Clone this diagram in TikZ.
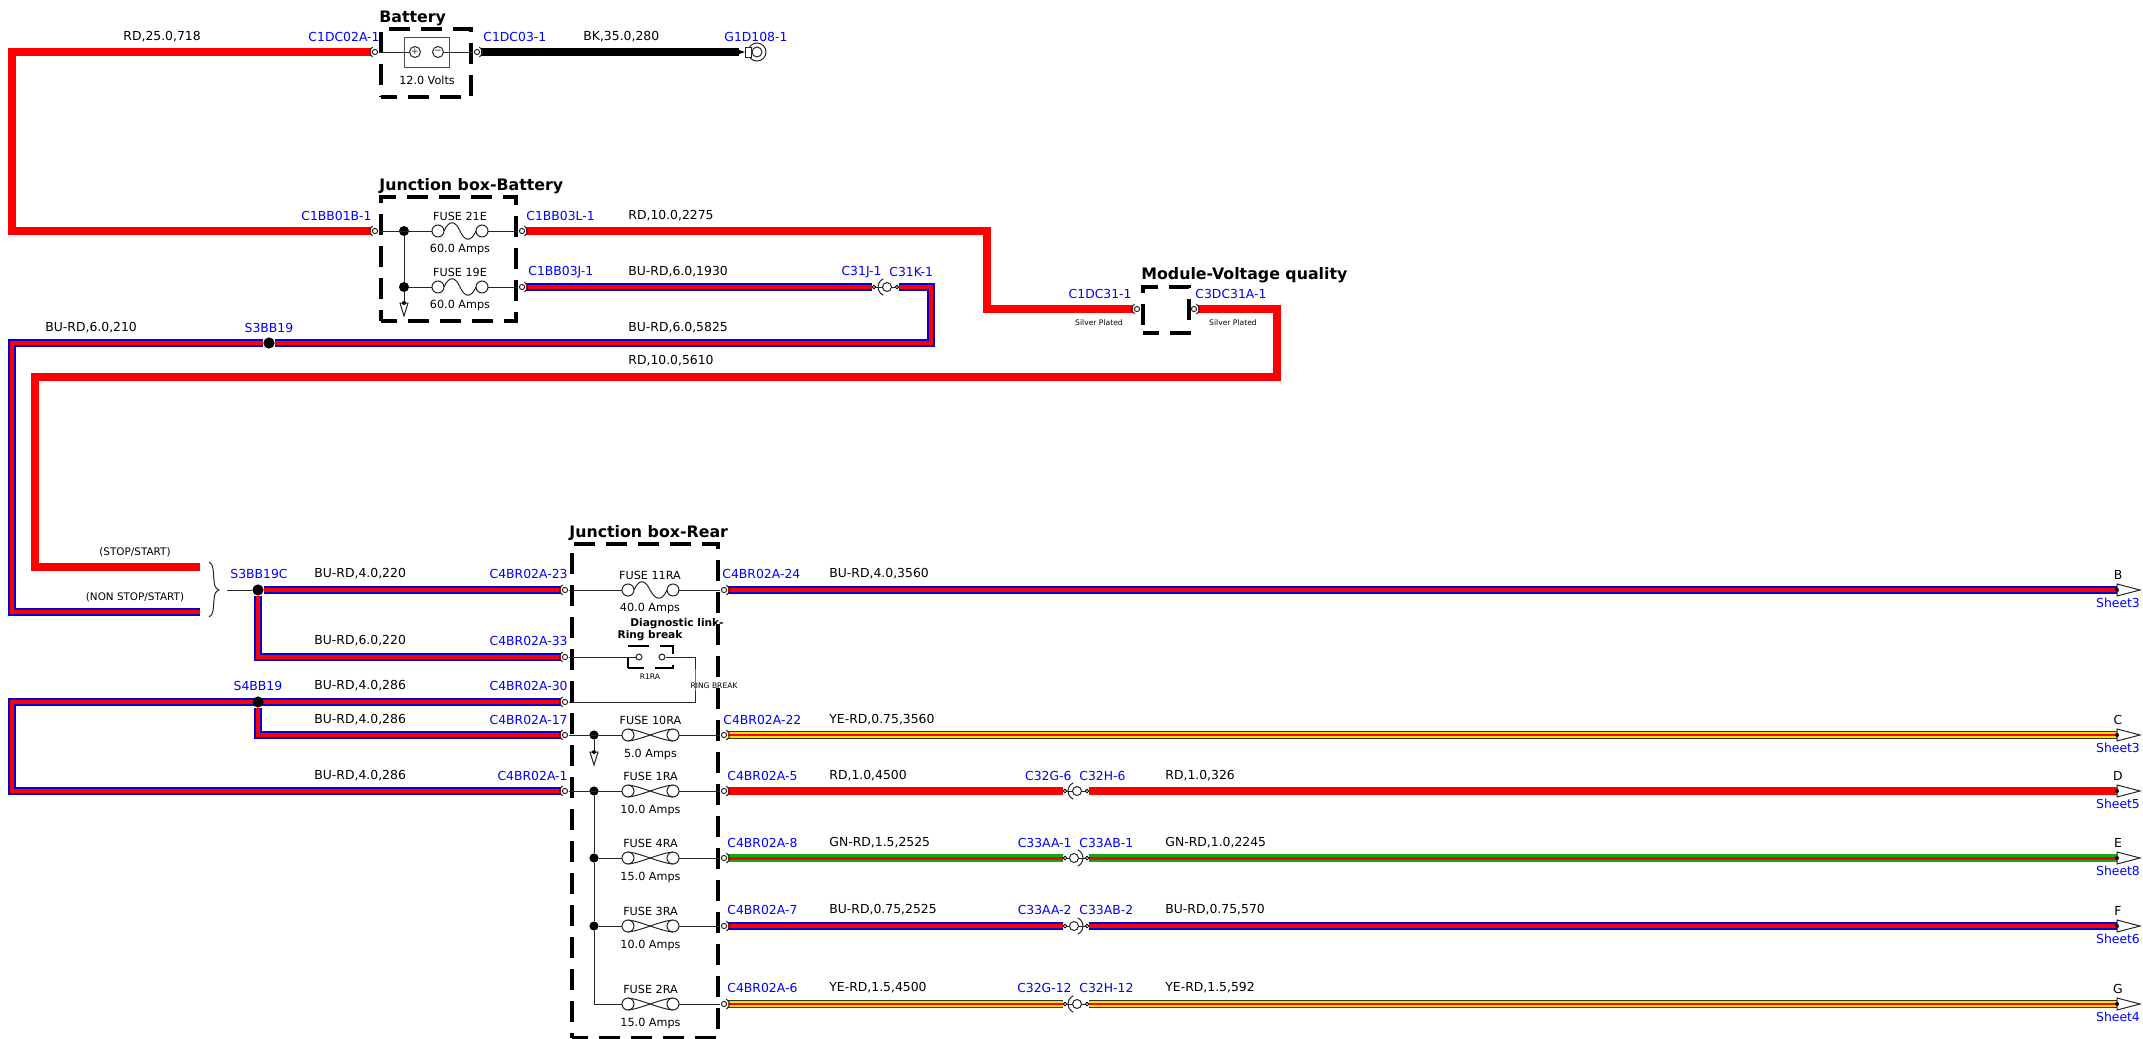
\documentclass[tikz,border=0pt]{standalone}
\usepackage{fontspec}
\setmainfont{DejaVu Sans}
\usepackage{xcolor}
\usepackage{tikz}
\usetikzlibrary{positioning,backgrounds}

\definecolor{wireblue}{RGB}{0,0,215}
\definecolor{wiregreen}{RGB}{20,170,20}
\definecolor{wireyellow}{RGB}{250,225,0}

\begin{document}
\begin{tikzpicture}[
    x=0.5pt, y=-0.5pt,
    txt/.style={inner sep=0pt, font=\fontsize{6.2}{7}\selectfont},
    wlbl/.style={txt, anchor=west},
    clbl/.style={txt, text=blue},
    cleft/.style={clbl, anchor=east},
    cright/.style={clbl, anchor=west},
    fusetxt/.style={inner sep=0pt, font=\fontsize{5.6}{7}\selectfont},
    tiny/.style={inner sep=0pt, font=\fontsize{3.8}{5}\selectfont},
    boxtitle/.style={inner sep=0pt, anchor=west, font=\fontsize{7.9}{9}\bfseries\selectfont},
    smalltitle/.style={inner sep=0pt, font=\fontsize{5.3}{7}\bfseries\selectfont},
    jbox/.style={rectangle, draw, inner sep=0pt, line width=1.6pt, dash pattern=on 10.5pt off 5.5pt, dash phase=2.5pt},
    sym/.style={line width=0.5pt, black!85},
    term/.style={circle, inner sep=0pt, minimum size=4pt},
    pinend/.style={circle, draw, fill=white, line width=0.4pt, inner sep=0pt, minimum size=1.8pt},
    jdot/.style={circle, fill=black, inner sep=0pt, minimum size=5.6pt},
    fuse/.style={inner sep=0pt, minimum width=28pt, minimum height=7pt},
    rdwire/.style={draw=red, line width=3.7pt},
    bkwire/.style={draw=black, line width=3.7pt},
    burd/.style={preaction={draw=wireblue, line width=3.7pt}, draw=red, line width=1.6pt},
    gnrd/.style={preaction={draw=wiregreen, line width=3.7pt}, draw=red, line width=1.5pt},
    yerd/.style={preaction={draw=black!80, line width=3.7pt},
        preaction={draw=wireyellow, line width=2.9pt}, draw=red, line width=1.2pt},
]
    \useasboundingbox (0,0) rectangle (2143,1039);

    % dashed boxes
    \node[jbox, minimum width=45pt, minimum height=34pt] (battbox) at (426,63) {};
    \node[jbox, minimum width=67.5pt, minimum height=62pt] (jbbatt) at (448.5,259) {};
    \node[jbox, minimum width=23pt, minimum height=23pt] (modbox) at (1166,310) {};
    \node[jbox, minimum width=73pt, minimum height=247pt] (jbrear) at (645,791) {};
    \node[boxtitle] (tbatt) at (379,18) {Battery};
    \node[boxtitle] (tjbbatt) at (379,186) {Junction box-Battery};
    \node[boxtitle] (tmod) at (1141,275) {Module-Voltage quality};
    \node[boxtitle] (tjbrear) at (569,533) {Junction box-Rear};

    % terminals
    \node[term] (c1dc02a) at (375,52) {};
    \node[term] (c1dc03) at (477,52) {};
    \node[term] (c1bb01b) at (375,231) {};
    \node[term] (c1bb03l) at (522,231) {};
    \node[term] (c1bb03j) at (522,287) {};
    \node[term] (c1dc31) at (1137,309) {};
    \node[term] (c3dc31a) at (1194,309) {};
    \node[term] (c4br23) at (565,590) {};
    \node[term] (c4br33) at (565,657) {};
    \node[term] (c4br30) at (565,702) {};
    \node[term] (c4br17) at (565,735) {};
    \node[term] (c4br1) at (565,791) {};
    \node[term] (c4br24) at (724,590) {};
    \node[term] (c4br22) at (724,735) {};
    \node[term] (c4br5) at (724,791) {};
    \node[term] (c4br8) at (724,858) {};
    \node[term] (c4br7) at (724,926) {};
    \node[term] (c4br6) at (724,1004) {};
    \foreach \t in {c1dc02a,c1bb01b,c1dc31,c4br23,c4br33,c4br30,c4br17,c4br1}
        \draw[sym] (\t) circle[radius=2.6] (\t) ++(115:5.5) arc (115:245:5.5);
    \foreach \t in {c1dc03,c1bb03l,c1bb03j,c3dc31a,c4br24,c4br22,c4br5,c4br8,c4br7,c4br6}
        \draw[sym] (\t) circle[radius=2.6] (\t) ++(-65:5.5) arc (-65:65:5.5);

    % inline connectors
    \node[pinend] (c31j) at (874,287) {};
    \node[pinend] (c31k) at (897,287) {};
    \node[pinend] (c32g6) at (1065,791) {};
    \node[pinend] (c32h6) at (1087,791) {};
    \node[pinend] (c33aa1) at (1065,858) {};
    \node[pinend] (c33ab1) at (1087,858) {};
    \node[pinend] (c33aa2) at (1065,926) {};
    \node[pinend] (c33ab2) at (1087,926) {};
    \node[pinend] (c32g12) at (1065,1004) {};
    \node[pinend] (c32h12) at (1087,1004) {};
    \foreach \a/\b in {c31j/c31k,c32g6/c32h6,c32g12/c32h12,c33aa1/c33ab1,c33aa2/c33ab2}
        \draw[sym] (\a) -- (\b);
    \foreach \cx/\y in {887/287,1077/791,1077/1004} {
        \draw[sym, fill=white] (\cx,\y) circle[radius=4.5];
        \draw[sym] (\cx,\y) ++(115:9) arc (115:245:9);
    }
    \foreach \cx/\y in {1074/858,1074/926} {
        \draw[sym, fill=white] (\cx,\y) circle[radius=4.5];
        \draw[sym] (\cx,\y) ++(-65:9) arc (-65:65:9);
    }

    % battery
    \node[draw=black!70, line width=0.5pt, inner sep=0pt, minimum width=22.5pt, minimum height=15pt] (batt) at (427,52) {};
    \node[circle, draw, sym, inner sep=0pt, minimum size=5.5pt, font=\fontsize{4.5}{5}\selectfont] (bplus) at (415,52) {+};
    \node[circle, draw, sym, inner sep=0pt, minimum size=5.5pt, font=\fontsize{4.5}{5}\selectfont] (bminus) at (438,52) {−};
    \node[fusetxt] (bvolts) at (427,80) {12.0 Volts};
    \draw[sym] (c1dc02a) -- (bplus);
    \draw[sym] (bminus) -- (c1dc03);

    % fuses with the wavy link
    \foreach \id/\cx/\y/\lx/\rx/\name/\amps in {e21/460/231/438/482/FUSE 21E/60.0,e19/460/287/438/482/FUSE 19E/60.0,ra11/650/590/628/673/FUSE 11RA/40.0} {
        \node[fuse] (fuse\id) at (\cx,\y) {};
        \node[fusetxt] (name\id) at (\cx,\y-15) {\name};
        \node[fusetxt] (amps\id) at (\cx,\y+19) {\amps\ Amps};
        \draw[sym] (\lx,\y) circle[radius=6] (\rx,\y) circle[radius=6];
        \draw[sym] (\lx+6,\y) .. controls (\lx+11,\y-11) and (\lx+17,\y-11) .. (\cx,\y)
            .. controls (\rx-17,\y+11) and (\rx-11,\y+11) .. (\rx-6,\y);
    }
    % fuses with the crossed link
    \foreach \id/\y/\name/\amps in {ra10/735/FUSE 10RA/5.0,ra1/791/FUSE 1RA/10.0,ra4/858/FUSE 4RA/15.0,ra3/926/FUSE 3RA/10.0,ra2/1004/FUSE 2RA/15.0} {
        \node[fuse] (fuse\id) at (650.5,\y) {};
        \node[fusetxt] (name\id) at (650.5,\y-15) {\name};
        \node[fusetxt] (amps\id) at (650.5,\y+19) {\amps\ Amps};
        \draw[sym] (628,\y) circle[radius=6] (673,\y) circle[radius=6];
        \draw[sym] (628,\y-6) .. controls (640,\y-5) and (660,\y+5) .. (673,\y+6);
        \draw[sym] (628,\y+6) .. controls (640,\y+5) and (660,\y-5) .. (673,\y-6);
    }

    % junctions
    \node[jdot, minimum size=5pt] (j21) at (404,231) {};
    \node[jdot, minimum size=5pt] (j19) at (404,287) {};
    \node[jdot, minimum size=4.6pt] (j10) at (594,735) {};
    \node[jdot, minimum size=4.6pt] (j1) at (594,791) {};
    \node[jdot, minimum size=4.6pt] (j4) at (594,858) {};
    \node[jdot, minimum size=4.6pt] (j3) at (594,926) {};
    \node[jdot] (s3bb19) at (269,343) {};
    \node[jdot] (s3bb19c) at (258,590) {};
    \node[jdot] (s4bb19) at (258,702) {};

    % internal links
    \draw[sym] (c1bb01b) -- (fusee21);
    \draw[sym] (fusee21) -- (c1bb03l);
    \draw[sym] (j21) -- (j19);
    \draw[sym] (j19) -- (fusee19);
    \draw[sym] (fusee19) -- (c1bb03j);
    \draw[sym] (c4br23) -- (fusera11);
    \draw[sym] (fusera11) -- (c4br24);
    \draw[sym] (c4br17) -- (fusera10);
    \draw[sym] (fusera10) -- (c4br22);
    \draw[sym] (c4br1) -- (fusera1);
    \draw[sym] (fusera1) -- (c4br5);
    \draw[sym] (j4) -- (fusera4);
    \draw[sym] (fusera4) -- (c4br8);
    \draw[sym] (j3) -- (fusera3);
    \draw[sym] (fusera3) -- (c4br7);
    \draw[sym] (j1) -- (j4);
    \draw[sym] (j4) -- (j3);
    \draw[sym] (j3) |- (fusera2);
    \draw[sym] (fusera2) -- (c4br6);

    % ground arrows
    \coordinate (gnda) at (404,303);
    \coordinate (gndb) at (594,752);
    \draw[sym] (j19) -- (gnda);
    \draw[sym] (j10) -- (gndb);
    \foreach \g in {gnda,gndb} {
        \draw[sym] (\g) ++(-4,0) -- ++(8,0) -- ++(-4,13) -- cycle;
        \fill (\g) circle[radius=2];
    }

    % ring break
    \node[jbox, line width=1.4pt, minimum width=22.5pt, minimum height=11pt] (rbbox) at (650.5,657) {};
    \node[circle, draw, sym, inner sep=0pt, minimum size=3pt] (rba) at (639,657) {};
    \node[circle, draw, sym, inner sep=0pt, minimum size=3pt] (rbb) at (662,657) {};
    \coordinate (rbturn) at (695,680);
    \draw[sym] (c4br33) -- (rba);
    \draw[sym] (rbb) -| (rbturn) |- (c4br30);
    \node[smalltitle] (tdiag) at (677,624) {Diagnostic link-};
    \node[smalltitle] (tring) at (650,636) {Ring break};
    \node[tiny] (r1ra) at (650,677) {R1RA};
    \node[tiny] (ringbrk) at (714,686) {RING BREAK};

    % brace
    \coordinate (bracetip) at (227,590);
    \draw[sym] (209,562) .. controls (214,564) and (213,572) .. (214,580)
        .. controls (214,586) and (216,589) .. (219,590)
        .. controls (216,591) and (214,594) .. (214,600)
        .. controls (213,608) and (214,615) .. (209,617);
    \draw[sym] (bracetip) -- (s3bb19c);
    \coordinate (stopend) at (200,567);
    \coordinate (nonstopend) at (200,612);
    \node[txt, font=\fontsize{5.2}{7}\selectfont] (tstop) at (135,552) {(STOP/START)};
    \node[txt, font=\fontsize{5.2}{7}\selectfont] (tnonstop) at (135,597) {(NON STOP/START)};

    % ground terminal
    \node[circle, draw, sym, inner sep=0pt, minimum size=9pt] (g1d108) at (757,52) {};
    \node[circle, draw, sym, inner sep=0pt, minimum size=5pt] (g1d108i) at (757,52) {};
    \coordinate (gndwire) at (739,52);
    \draw[sym, fill=white] (745,47) rectangle (751,57);
    \fill (739,50) -- (745,52) -- (739,54) -- cycle;

    % off sheet arrows
    \foreach \id/\y/\l/\s in {b/590/B/3,c/735/C/3,d/791/D/5,e/858/E/8,f/926/F/6,g/1004/G/4} {
        \coordinate (off\id) at (2117,\y);
        \draw[sym] (2117,\y-6) -- (2140,\y) -- (2117,\y+6) -- cycle;
        \fill (off\id) circle[radius=2];
        \node[txt] (letter\id) at (2118,\y-15) {\l};
        \node[clbl] (sheet\id) at (2118,\y+13) {Sheet\s};
    }

    % wires
    \begin{scope}[on background layer]
        \coordinate (leftA) at (12,140);
        \coordinate (upA) at (987,270);
        \coordinate (rightA) at (1277,340);
        \coordinate (leftB) at (35,377);
        \coordinate (leftC) at (12,480);
        \coordinate (rightC) at (931,320);
        \coordinate (leftD) at (12,750);
        \draw[rdwire] (c1dc02a) -| (leftA) |- (c1bb01b);
        \draw[bkwire] (c1dc03) -- (gndwire);
        \draw[rdwire] (c1bb03l) -| (upA) |- (c1dc31);
        \draw[rdwire] (c3dc31a) -| (rightA) |- (leftB) |- (stopend);
        \draw[burd] (c1bb03j) -- (c31j);
        \draw[burd] (c31k) -| (rightC) |- (s3bb19);
        \draw[burd] (s3bb19) -| (leftC) |- (nonstopend);
        \draw[burd] (s3bb19c) -- (c4br23);
        \draw[burd] (s3bb19c) |- (c4br33);
        \draw[burd] (c4br30) -| (leftD) |- (c4br1);
        \draw[burd] (s4bb19) |- (c4br17);
        \draw[burd] (c4br24) -- (offb);
        \draw[yerd] (c4br22) -- (offc);
        \draw[rdwire] (c4br5) -- (c32g6);
        \draw[rdwire] (c32h6) -- (offd);
        \draw[gnrd] (c4br8) -- (c33aa1);
        \draw[gnrd] (c33ab1) -- (offe);
        \draw[burd] (c4br7) -- (c33aa2);
        \draw[burd] (c33ab2) -- (offf);
        \draw[yerd] (c4br6) -- (c32g12);
        \draw[yerd] (c32h12) -- (offg);
    \end{scope}

    % connector names
    \node[cleft] (nc1dc02a) at (380,37) {C1DC02A-1};
    \node[cright] (nc1dc03) at (483,37) {C1DC03-1};
    \node[cright] (ng1d108) at (724,37) {G1D108-1};
    \node[cleft] (nc1bb01b) at (372,216) {C1BB01B-1};
    \node[cright] (nc1bb03l) at (526,216) {C1BB03L-1};
    \node[cright] (nc1bb03j) at (528,272) {C1BB03J-1};
    \node[cleft] (nc31j) at (882,272) {C31J-1};
    \node[cright] (nc31k) at (889,272) {C31K-1};
    \node[cleft] (nc1dc31) at (1132,294) {C1DC31-1};
    \node[cright] (nc3dc31a) at (1195,294) {C3DC31A-1};
    \node[clbl] (ns3bb19) at (269,328) {S3BB19};
    \node[clbl] (ns3bb19c) at (259,574) {S3BB19C};
    \node[clbl] (ns4bb19) at (258,686) {S4BB19};
    \node[cleft] (nc4br23) at (568,574) {C4BR02A-23};
    \node[cleft] (nc4br33) at (568,641) {C4BR02A-33};
    \node[cleft] (nc4br30) at (568,686) {C4BR02A-30};
    \node[cleft] (nc4br17) at (568,720) {C4BR02A-17};
    \node[cleft] (nc4br1) at (568,776) {C4BR02A-1};
    \node[cright] (nc4br24) at (722,574) {C4BR02A-24};
    \node[cright] (nc4br22) at (723,720) {C4BR02A-22};
    \node[cright] (nc4br5) at (727,776) {C4BR02A-5};
    \node[cright] (nc4br8) at (727,843) {C4BR02A-8};
    \node[cright] (nc4br7) at (727,910) {C4BR02A-7};
    \node[cright] (nc4br6) at (727,988) {C4BR02A-6};
    \node[cleft] (nc32g6) at (1072,776) {C32G-6};
    \node[cright] (nc32h6) at (1079,776) {C32H-6};
    \node[cleft] (nc33aa1) at (1072,843) {C33AA-1};
    \node[cright] (nc33ab1) at (1079,843) {C33AB-1};
    \node[cleft] (nc33aa2) at (1072,910) {C33AA-2};
    \node[cright] (nc33ab2) at (1079,910) {C33AB-2};
    \node[cleft] (nc32g12) at (1072,988) {C32G-12};
    \node[cright] (nc32h12) at (1079,988) {C32H-12};

    % wire labels
    \node[wlbl] (w1) at (123,37) {RD,25.0,718};
    \node[wlbl] (w2) at (583,37) {BK,35.0,280};
    \node[wlbl] (w3) at (628,216) {RD,10.0,2275};
    \node[wlbl] (w4) at (628,272) {BU-RD,6.0,1930};
    \node[wlbl] (w5) at (628,328) {BU-RD,6.0,5825};
    \node[wlbl] (w6) at (45,328) {BU-RD,6.0,210};
    \node[wlbl] (w7) at (628,361) {RD,10.0,5610};
    \node[wlbl] (w8) at (314,574) {BU-RD,4.0,220};
    \node[wlbl] (w9) at (314,641) {BU-RD,6.0,220};
    \node[wlbl] (w10) at (314,686) {BU-RD,4.0,286};
    \node[wlbl] (w11) at (314,720) {BU-RD,4.0,286};
    \node[wlbl] (w12) at (314,776) {BU-RD,4.0,286};
    \node[wlbl] (w13) at (829,574) {BU-RD,4.0,3560};
    \node[wlbl] (w14) at (829,720) {YE-RD,0.75,3560};
    \node[wlbl] (w15) at (829,776) {RD,1.0,4500};
    \node[wlbl] (w16) at (829,843) {GN-RD,1.5,2525};
    \node[wlbl] (w17) at (829,910) {BU-RD,0.75,2525};
    \node[wlbl] (w18) at (829,988) {YE-RD,1.5,4500};
    \node[wlbl] (w19) at (1165,776) {RD,1.0,326};
    \node[wlbl] (w20) at (1165,843) {GN-RD,1.0,2245};
    \node[wlbl] (w21) at (1165,910) {BU-RD,0.75,570};
    \node[wlbl] (w22) at (1165,988) {YE-RD,1.5,592};

    \node[tiny] (silvera) at (1099,323) {Silver Plated};
    \node[tiny] (silverb) at (1233,323) {Silver Plated};
\end{tikzpicture}
\end{document}
